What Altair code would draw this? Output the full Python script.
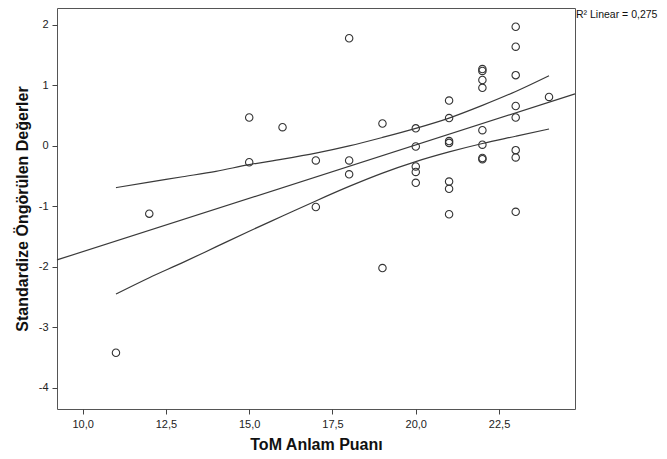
import altair as alt
import pandas as pd

# Scatter points (ToM Anlam Puanı, Standardize Öngörülen Değerler)
x_vals = [11, 12, 15, 15, 16, 17, 17, 18, 18, 18, 19, 19,
          20, 20, 20, 20, 20,
          21, 21, 21, 21, 21, 21, 21,
          22, 22, 22, 22, 22, 22, 22, 22,
          23, 23, 23, 23, 23, 23, 23, 23,
          24]
y_vals = [-3.42, -1.12, 0.47, -0.27, 0.31, -0.24, -1.01, 1.78, -0.24, -0.47, 0.37, -2.02,
          0.29, -0.01, -0.34, -0.43, -0.61,
          0.75, 0.46, 0.08, 0.05, -0.59, -0.71, -1.13,
          1.27, 1.24, 1.09, 0.96, 0.26, 0.02, -0.20, -0.22,
          1.97, 1.64, 1.17, 0.66, 0.47, -0.07, -0.19, -1.09,
          0.81]

# Confidence band (mean)
band_x = [11, 12, 13, 14, 15, 16, 17, 18, 19, 20, 21, 22, 23, 24]
band_upper = [-0.69, -0.60, -0.51, -0.42, -0.31, -0.22, -0.12, 0.00, 0.14, 0.29, 0.46, 0.67, 0.90, 1.16]
band_lower = [-2.45, -2.18, -1.93, -1.67, -1.41, -1.16, -0.91, -0.67, -0.45, -0.26, -0.10, 0.04, 0.16, 0.28]

x_ticks = [10, 12.5, 15, 17.5, 20, 22.5]
y_ticks = [-4, -3, -2, -1, 0, 1, 2]
x_domain = [9.23, 24.78]
y_domain = [-4.35, 2.28]
r2_label = ["R² Linear = 0,275"]

pts = pd.DataFrame({"x": x_vals, "y": y_vals})
band = pd.DataFrame({"x": band_x, "upper": band_upper, "lower": band_lower})
lab = pd.DataFrame({"x": [x_domain[1]], "y": [y_domain[1]], "label": r2_label})

FONT = "Arial"
LINE = "#3a3a3a"

xscale = alt.Scale(domain=x_domain, nice=False, zero=False)
yscale = alt.Scale(domain=y_domain, nice=False, zero=False)

xaxis = alt.Axis(values=x_ticks,
                 labelExpr="replace(format(datum.value, '.1f'), '.', ',')",
                 grid=False, domain=False, tickSize=5, tickColor="#444",
                 labelFontSize=11, labelPadding=4, labelColor="#222",
                 titleFontSize=16, titleFontWeight="bold", titlePadding=7,
                 titleColor="#111", labelFont=FONT, titleFont=FONT)
yaxis = alt.Axis(values=y_ticks, labelExpr="'' + datum.value",
                 grid=False, domain=False, tickSize=5, tickColor="#444",
                 labelFontSize=11, labelPadding=4, labelColor="#222",
                 titleFontSize=16, titleFontWeight="bold", titlePadding=8,
                 titleColor="#111", labelFont=FONT, titleFont=FONT)

X = alt.X("x:Q", scale=xscale, axis=xaxis, title="ToM Anlam Puanı")
YT = "Standardize Öngörülen Değerler"

points = alt.Chart(pts).mark_point(
    shape="circle", filled=False, size=55, strokeWidth=1.1, color="#333", opacity=1
).encode(x=X, y=alt.Y("y:Q", scale=yscale, axis=yaxis, title=YT))

fit = alt.Chart(pts).transform_regression(
    "x", "y", extent=x_domain
).mark_line(color=LINE, strokeWidth=1.2).encode(
    x=X, y=alt.Y("y:Q", scale=yscale, axis=yaxis, title=YT))

upper = alt.Chart(band).mark_line(color=LINE, strokeWidth=1.2, interpolate="monotone").encode(
    x=X, y=alt.Y("upper:Q", scale=yscale, axis=yaxis, title=YT))
lower = alt.Chart(band).mark_line(color=LINE, strokeWidth=1.2, interpolate="monotone").encode(
    x=X, y=alt.Y("lower:Q", scale=yscale, axis=yaxis, title=YT))

text = alt.Chart(lab).mark_text(
    align="left", baseline="top", dx=1, dy=2, fontSize=10.5, font=FONT, color="#111"
).encode(x=alt.X("x:Q", scale=xscale, axis=xaxis, title="ToM Anlam Puanı"),
         y=alt.Y("y:Q", scale=yscale, axis=yaxis, title=YT), text="label:N")

chart = alt.layer(points, fit, upper, lower, text).properties(
    width=518, height=401,
    autosize=alt.AutoSizeParams(type="none"),
    padding={"left": 49, "top": 0, "right": 84, "bottom": 42},
).configure_view(stroke="#555", strokeWidth=1)

chart.save("out.html", embed_options={"renderer": "svg", "actions": False})
